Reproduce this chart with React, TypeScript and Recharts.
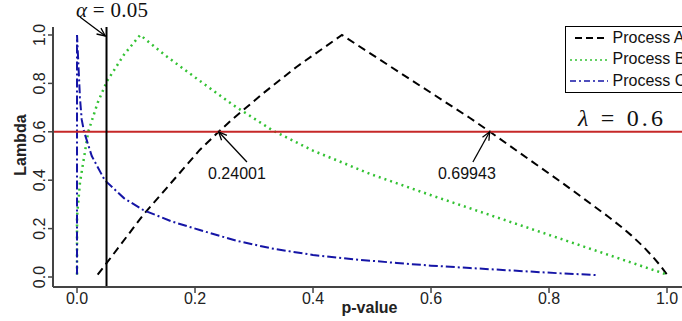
import React from 'react';
import { ComposedChart, Line, XAxis, YAxis, ReferenceLine, Legend } from 'recharts';

const aX = [0.035, 0.051, 0.112, 0.208, 0.24, 0.262, 0.316, 0.372, 0.449, 0.55, 0.666, 0.7, 0.751, 0.819, 0.86, 0.9, 0.92, 0.94, 0.96, 0.975, 0.988, 1.0];
const aY = [0.01, 0.06, 0.256, 0.525, 0.6, 0.649, 0.76, 0.868, 1.0, 0.84, 0.657, 0.6, 0.512, 0.395, 0.322, 0.25, 0.212, 0.171, 0.125, 0.086, 0.049, 0.01];

const bX = [0.0, 0.0, 0.005, 0.014, 0.019, 0.035, 0.051, 0.08, 0.107, 0.15, 0.2, 0.265, 0.332, 0.4, 0.5, 0.6, 0.7, 0.8, 0.9, 1.0];
const bY = [0.01, 0.25, 0.39, 0.525, 0.6, 0.72, 0.81, 0.92, 1.0, 0.915, 0.825, 0.71, 0.605, 0.522, 0.423, 0.338, 0.256, 0.174, 0.092, 0.01];

const cX = [0.0, 0.0, 0.005, 0.008, 0.012, 0.025, 0.047, 0.08, 0.112, 0.16, 0.208, 0.27, 0.33, 0.4, 0.47, 0.542, 0.6, 0.666, 0.75, 0.82, 0.881];
const cY = [0.01, 1.0, 0.74, 0.65, 0.6, 0.5, 0.4, 0.325, 0.277, 0.23, 0.194, 0.15, 0.118, 0.091, 0.073, 0.058, 0.047, 0.037, 0.025, 0.015, 0.008];

const xTicks = [0, 0.2, 0.4, 0.6, 0.8, 1.0];
const yTicks = [0, 0.2, 0.4, 0.6, 0.8, 1.0];
const seriesNames = ['Process A', 'Process B', 'Process C'];

const alpha = 0.05;
const lambda = 0.6;
const crossA1 = 0.24001;
const crossA2 = 0.69943;

const toPoints = (xs: number[], ys: number[]) => xs.map((x, i) => ({ x, y: ys[i] }));
const aData = toPoints(aX, aY);
const bData = toPoints(bX, bY);
const cData = toPoints(cX, cY);

const sans = '"Liberation Sans", Arial, sans-serif';
const serif = '"Liberation Serif", "Times New Roman", serif';

const XTick = (props: any) => {
  const { x, y, payload } = props;
  return (
    <text x={x} y={y + 3} textAnchor="middle" dominantBaseline="central" fontFamily={sans} fontSize={16} fill="#222">
      {payload.value.toFixed(1)}
    </text>
  );
};

const YTick = (props: any) => {
  const { x, y, payload } = props;
  const cx = x - 6;
  return (
    <text x={cx} y={y} transform={`rotate(-90, ${cx}, ${y})`} textAnchor="middle" dominantBaseline="central" fontFamily={sans} fontSize={16} fill="#222">
      {payload.value.toFixed(1)}
    </text>
  );
};

const head = (x1: number, y1: number, x2: number, y2: number) => {
  const ang = Math.atan2(y2 - y1, x2 - x1);
  const h = 9;
  const w = 0.42;
  const p1 = `${x2 - h * Math.cos(ang - w)},${y2 - h * Math.sin(ang - w)}`;
  const p2 = `${x2 - h * Math.cos(ang + w)},${y2 - h * Math.sin(ang + w)}`;
  return `${p1} ${x2},${y2} ${p2}`;
};

// line from tail (x1,y1) to tip (x2,y2) with an open arrow head
const arrow = (label: string, dx: number, dy: number) => (props: any) => {
  const { x1, y1, x2, y2 } = props;
  return (
    <g>
      <line x1={x1} y1={y1} x2={x2} y2={y2} stroke="#000" strokeWidth={1.3} />
      <polyline points={head(x1, y1, x2, y2)} fill="none" stroke="#000" strokeWidth={1.3} />
      <text x={x1 + dx} y={y1 + dy} textAnchor="middle" dominantBaseline="central" fontFamily={sans} fontSize={16} fill="#111">
        {label}
      </text>
    </g>
  );
};

const alphaArrow = (props: any) => {
  const { x1, y1, x2, y2 } = props;
  return (
    <g>
      <line x1={x1} y1={y1} x2={x2} y2={y2} stroke="#000" strokeWidth={1.3} />
      <polyline points={head(x1, y1, x2, y2)} fill="none" stroke="#000" strokeWidth={1.3} />
      <text x={x1 - 4} y={y1} textLength={72} lengthAdjust="spacing" fontFamily={serif} fontSize={21} fill="#111">
        <tspan fontStyle="italic">α</tspan> = 0.05
      </text>
    </g>
  );
};

const lambdaLine = (props: any) => {
  const { x1, y1, x2, y2 } = props;
  return (
    <g>
      <line x1={x1} y1={y1} x2={x2} y2={y2} stroke="#c62828" strokeWidth={2} />
      <text x={x2 - 104} y={y1 - 6} textLength={85} lengthAdjust="spacing" fontFamily={serif} fontSize={24} fill="#111">
        <tspan fontStyle="italic">λ</tspan> = 0.6
      </text>
    </g>
  );
};

const legendStyles = [
  { stroke: '#000', dash: '7 4', x1: 5, x2: 36, w: 1.8 },
  { stroke: '#33c233', dash: '2 3', x1: 0, x2: 39, w: 1.5 },
  { stroke: '#1515a6', dash: '6 3 2 3', x1: 0, x2: 38, w: 1.5 },
];

const LegendBox = () => (
  <div style={{ border: '1.5px solid #000', background: '#fff', paddingLeft: 3.5, width: 140, fontFamily: sans, fontSize: 16, color: '#111' }}>
    {seriesNames.map((name, i) => {
      const s = legendStyles[i];
      return (
        <div key={name} style={{ display: 'flex', alignItems: 'center', height: 21.5, whiteSpace: 'nowrap' }}>
          <svg width={42} height={21}>
            <line x1={s.x1} y1={11} x2={s.x2} y2={11} stroke={s.stroke} strokeWidth={s.w} strokeDasharray={s.dash} />
          </svg>
          <span style={{ marginLeft: 1 }}>{name}</span>
        </div>
      );
    })}
  </div>
);

const App = () => {
  return (
    <div style={{ position: 'absolute', left: 0, top: 0, width: 682, height: 321, overflow: 'hidden', background: '#fff' }}>
      <ComposedChart width={682} height={321} margin={{ top: 27, right: 0, bottom: 0, left: 0 }}>
        <XAxis
          type="number"
          dataKey="x"
          domain={[-0.0407, 1.0254]}
          ticks={xTicks}
          allowDataOverflow
          height={34}
          tickSize={6}
          tick={<XTick />}
          axisLine={{ stroke: '#444', strokeWidth: 2 }}
          tickLine={{ stroke: '#444', strokeWidth: 1.5 }}
          label={{
            content: (p: any) => (
              <text x={p.viewBox.x + p.viewBox.width / 2 + 2} y={p.viewBox.y + 20} textAnchor="middle" dominantBaseline="central" fontFamily={sans} fontWeight="bold" fontSize={16} fill="#222">
                p-value
              </text>
            ),
          }}
        />
        <YAxis
          type="number"
          domain={[-0.0413, 1.033]}
          ticks={yTicks}
          allowDataOverflow
          width={53}
          tickSize={5}
          tick={<YTick />}
          axisLine={{ stroke: '#444', strokeWidth: 2 }}
          tickLine={{ stroke: '#444', strokeWidth: 1.5 }}
          label={{
            content: (p: any) => {
              const cy = p.viewBox.y + p.viewBox.height / 2 - 12;
              return (
                <text x={20} y={cy} transform={`rotate(-90, 20, ${cy})`} textAnchor="middle" dominantBaseline="central" fontFamily={sans} fontWeight="bold" fontSize={16} fill="#222">
                  Lambda
                </text>
              );
            },
          }}
        />
        <Line data={aData} dataKey="y" type="linear" stroke="#000" strokeWidth={2} strokeDasharray="8 5" dot={false} isAnimationActive={false} />
        <Line data={bData} dataKey="y" type="linear" stroke="#33c233" strokeWidth={2.5} strokeDasharray="2 4" dot={false} isAnimationActive={false} />
        <Line data={cData} dataKey="y" type="linear" stroke="#1515a6" strokeWidth={2} strokeDasharray="9 3 2 3" dot={false} isAnimationActive={false} />
        <ReferenceLine y={lambda} shape={lambdaLine} ifOverflow="visible" />
        <ReferenceLine x={alpha} stroke="#000" strokeWidth={2} />
        <ReferenceLine segment={[{ x: 0.005, y: 1.074 }, { x: 0.048, y: 0.996 }]} shape={alphaArrow} ifOverflow="visible" />
        <ReferenceLine segment={[{ x: 0.288, y: 0.475 }, { x: crossA1, y: lambda }]} shape={arrow('0.24001', -10, 11)} ifOverflow="visible" />
        <ReferenceLine segment={[{ x: 0.671, y: 0.475 }, { x: crossA2, y: lambda }]} shape={arrow('0.69943', -6, 11)} ifOverflow="visible" />
        <Legend
          layout="vertical"
          align="center"
          verticalAlign="middle"
          content={<LegendBox />}
          wrapperStyle={{ position: 'absolute', left: 565, top: 26, width: 'auto', height: 'auto' }}
        />
      </ComposedChart>
    </div>
  );
};

export default App;
